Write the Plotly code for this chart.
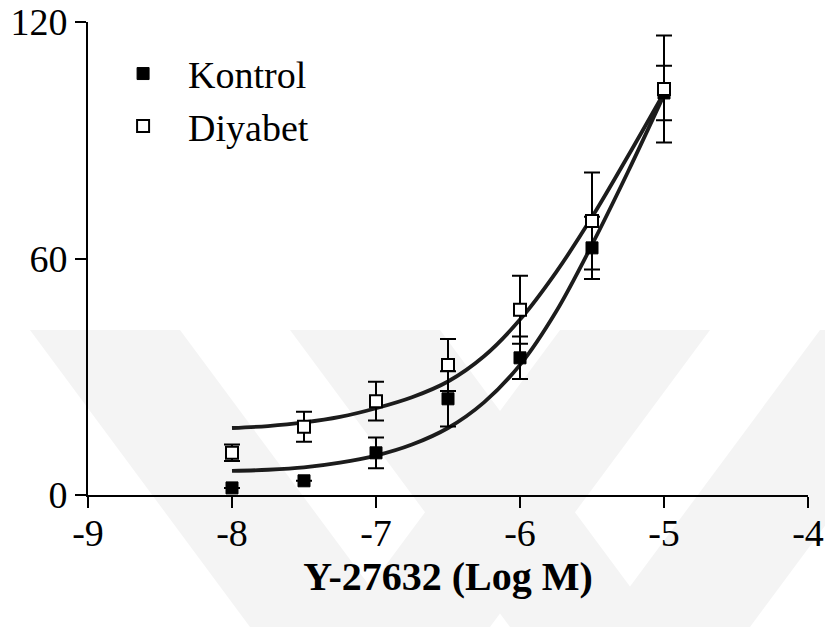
import plotly.graph_objects as go

# ---- data ----
log_dose = [-8.0, -7.5, -7.0, -6.5, -6.0, -5.5, -5.0]
kontrol_mean = [1.8, 3.6, 10.7, 24.4, 34.8, 62.7, 102.0]
kontrol_sem = [0.0, 0.0, 3.9, 7.0, 5.4, 7.9, 6.9]
diyabet_mean = [10.7, 17.3, 23.8, 33.0, 47.0, 69.5, 103.0]
diyabet_sem = [2.1, 3.8, 4.9, 6.6, 8.6, 12.3, 13.6]

curve_x = [-8.0, -7.75, -7.5, -7.25, -7.0, -6.75, -6.5, -6.25, -6.0, -5.75, -5.5, -5.25, -5.0]
kontrol_fit = [6.1, 6.4, 7.0, 8.2, 10.0, 12.8, 17.0, 23.5, 33.0, 46.5, 63.5, 82.0, 101.5]
diyabet_fit = [17.0, 17.5, 18.4, 19.8, 22.0, 24.8, 28.8, 35.2, 44.5, 56.5, 70.5, 86.0, 102.0]

x_ticks = [-9, -8, -7, -6, -5, -4]
y_ticks = [0, 60, 120]

FONT = "Liberation Serif"

# plot-area geometry in window pixels
L, R, T, B = 88, 808, 22, 495


def px(xp, yp):
    return (xp - L) / (R - L), (B - yp) / (B - T)


def poly(points):
    pts = [px(a, b) for a, b in points]
    d = "M " + " L ".join(f"{a:.4f},{b:.4f}" for a, b in pts) + " Z"
    return dict(type="path", path=d, xref="paper", yref="paper",
                fillcolor="#f4f4f4", line=dict(width=0), layer="below")


wm = [
    poly([(30, 330), (180, 330), (400, 627), (250, 627)]),
    poly([(560, 330), (710, 330), (490, 627), (340, 627)]),
    poly([(290, 330), (440, 330), (660, 627), (510, 627)]),
    poly([(820, 330), (970, 330), (750, 627), (600, 627)]),
]

fig = go.Figure()

fig.add_trace(go.Scatter(x=curve_x, y=kontrol_fit, mode="lines",
                         line=dict(color="#1c1c1c", width=3.8, shape="spline"),
                         showlegend=False, hoverinfo="skip"))
fig.add_trace(go.Scatter(x=curve_x, y=diyabet_fit, mode="lines",
                         line=dict(color="#1c1c1c", width=3.8, shape="spline"),
                         showlegend=False, hoverinfo="skip"))

fig.add_trace(go.Scatter(
    x=log_dose, y=kontrol_mean, mode="markers", name="Kontrol",
    marker=dict(symbol="square", size=12, color="black",
                line=dict(color="black", width=1)),
    error_y=dict(type="data", array=kontrol_sem, visible=True,
                 color="black", thickness=2, width=8),
    cliponaxis=False))
fig.add_trace(go.Scatter(
    x=log_dose, y=diyabet_mean, mode="markers", name="Diyabet",
    marker=dict(symbol="square", size=12, color="white",
                line=dict(color="black", width=2)),
    error_y=dict(type="data", array=diyabet_sem, visible=True,
                 color="black", thickness=2, width=8),
    cliponaxis=False))

fig.update_layout(
    width=825, height=627,
    margin=dict(l=L, r=825 - R, t=T, b=627 - B),
    paper_bgcolor="white", plot_bgcolor="rgba(0,0,0,0)",
    font=dict(family=FONT, size=38, color="black"),
    shapes=wm,
    legend=dict(x=0.014, y=0.957, xanchor="left", yanchor="top",
                bgcolor="rgba(0,0,0,0)", itemwidth=80,
                font=dict(family=FONT, size=38, color="black")),
    xaxis=dict(range=[-9, -4], tickvals=x_ticks, ticktext=[str(v) for v in x_ticks],
               showline=True, linecolor="black", linewidth=2,
               ticks="outside", ticklen=11, tickwidth=2, tickcolor="black",
               showgrid=False, zeroline=False, automargin=False,
               ticklabelstandoff=-8, ticklabeloverflow="allow",
               tickfont=dict(family=FONT, size=38),
               title=dict(text="<b>Y-27632 (Log M)</b>", standoff=8,
                          font=dict(family=FONT, size=40))),
    yaxis=dict(range=[0, 120], tickvals=y_ticks, ticktext=[str(v) for v in y_ticks],
               showline=True, linecolor="black", linewidth=2,
               ticks="outside", ticklen=11, tickwidth=2, tickcolor="black",
               showgrid=False, zeroline=False, automargin=False,
               ticklabeloverflow="allow",
               tickfont=dict(family=FONT, size=38)),
)

fig.write_html(
    "out.html",
    config={"displayModeBar": False},
    post_script="document.body.style.margin='0';document.body.style.overflow='hidden';",
)
